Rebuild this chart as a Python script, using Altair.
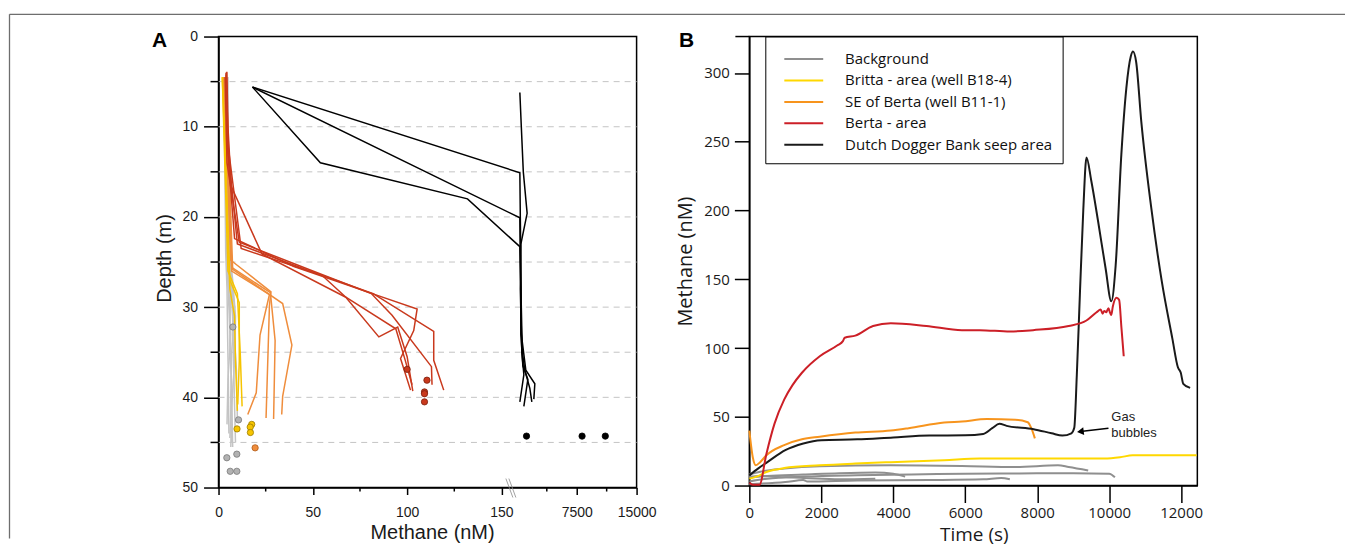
import altair as alt
import pandas as pd

# ======================= Panel A : depth profiles =======================
A_CATS = ["Background", "Britta - area (well B18-4)", "SE of Berta (well B11-1)",
          "Berta - area", "Dutch Dogger Bank seep area"]
A_LINE_COLORS = ["#c4c4c4", "#f6c400", "#ef8d3c", "#c9391d", "#000000"]
A_FILL_COLORS = ["#b2b2b2", "#f6c400", "#ef8d3c", "#c9391d", "#000000"]
A_EDGE_COLORS = ["#7a7a7a", "#9c7c00", "#b05a18", "#7a1f0e", "#000000"]

A_X_TICKS = [0, 50, 100, 150, 7500, 15000]
A_X_MINOR = [25, 75, 125, 3750, 11250]
A_X_BREAKS = [0, 155, 3750, 15000]
A_Y_TICKS = [0, 10, 20, 30, 40, 50]
A_Y_MINOR = [5, 15, 25, 35, 45]
A_GRID = [5, 10, 15, 20, 25, 30, 35, 40, 45]

# Background profiles
BG1_D = [4.5, 10, 15, 20, 25, 30, 35, 40, 45.5]
BG1_V = [3.5, 3.8, 4.0, 4.2, 4.5, 5.5, 6.5, 7.0, 7.5]
BG2_D = [4.5, 10, 16, 22, 26, 31, 36, 41, 45]
BG2_V = [4.0, 4.2, 4.6, 5.0, 6.0, 7.5, 8.0, 8.5, 9.0]
BG3_D = [5, 12, 18, 24, 28, 33, 38, 44]
BG3_V = [3.0, 3.2, 3.5, 3.8, 4.5, 4.8, 5.2, 5.5]
BG4_D = [4.5, 11, 17, 23, 27, 32, 37, 42.5]
BG4_V = [4.5, 5.0, 5.2, 5.5, 7.0, 8.0, 9.5, 10.0]
BG5_D = [5, 12, 20, 25, 29, 34, 39, 44.5]
BG5_V = [3.8, 4.0, 4.5, 5.0, 6.5, 6.0, 7.0, 6.0]
BG6_D = [4.5, 14, 21, 26, 30, 35, 40, 45]
BG6_V = [5.0, 5.2, 5.5, 6.0, 8.5, 7.0, 6.5, 7.0]
BG7_D = [5, 15, 25, 28, 33, 38, 43]
BG7_V = [3.5, 4.0, 4.5, 5.5, 6.5, 5.0, 4.5]
BG8_D = [4.5, 13, 22, 27, 31, 36, 41, 45.5]
BG8_V = [4.2, 4.5, 5.0, 7.5, 9.0, 8.5, 7.0, 6.5]

# Britta profiles
BR1_D = [4.5, 26, 28.5, 35, 41]
BR1_V = [2.0, 5.0, 10.0, 11.5, 12.5]
BR2_D = [4.5, 27, 29.5, 36, 40.8]
BR2_V = [2.5, 6.0, 11.0, 11.0, 10.2]
BR3_D = [4.5, 28, 31, 36, 41.5]
BR3_V = [2.0, 6.0, 8.5, 9.0, 10.0]

# SE of Berta profiles
SE1_D = [4.5, 24.8, 28.3, 29.8, 42.3]
SE1_V = [3.0, 6.5, 27.8, 27.0, 25.2]
SE2_D = [4.5, 25.6, 28.4, 33.7, 42.4]
SE2_V = [3.5, 7.0, 27.5, 30.0, 29.2]
SE3_D = [4.5, 25.8, 29.6, 34.2, 39.9, 41.9]
SE3_V = [4.0, 7.5, 34.0, 38.9, 34.0, 33.5]
SE4_D = [4.5, 26, 28.6, 33.1, 39.5, 41.9]
SE4_V = [3.0, 7.0, 27.0, 22.0, 20.0, 15.5]

# Berta profiles
BE1_D = [3.9, 10, 16.6, 24.1, 28.9, 32.4, 35.9, 38.6]
BE1_V = [4.4, 5.0, 6.7, 23, 67.5, 94, 99, 102.6]
BE2_D = [4.2, 12, 22.4, 25.5, 28.5, 30.2, 32.6, 35.7, 39.2]
BE2_V = [4.0, 4.6, 8.5, 40, 81.5, 105.3, 103.5, 96.5, 101.8]
BE3_D = [4.5, 14, 22.8, 26, 28.5, 30.9, 36.6, 38.6]
BE3_V = [3.5, 4.5, 11, 50, 81, 92, 112.9, 113.2]
BE4_D = [4.0, 12, 23, 26.5, 28.9, 33.3, 32.2, 35.5, 39.3]
BE4_V = [4.0, 4.8, 10, 55, 67.5, 85, 95, 100, 103]
BE5_D = [4.0, 12, 23.5, 26.7, 28.5, 32.7, 35.9, 39.2]
BE5_V = [4.2, 5.0, 12, 58, 82, 114.1, 114.1, 119.4]

# Dutch Dogger Bank profiles
DD1_D = [5.6, 15.1, 20, 25, 30, 35, 37.5, 40.5]
DD1_V = [18, 1054, 1100, 1154, 1154, 1254, 1454, 1054]
DD2_D = [5.6, 20.1, 25, 30, 35, 37, 39, 40.5]
DD2_V = [18, 1054, 1100, 1200, 1300, 1554, 2053, 2253]
DD3_D = [5.6, 14, 18, 23.3, 28, 33, 36.5, 38, 41]
DD3_V = [18, 54, 132, 1054, 1154, 1154, 1354, 1854, 1454]
DD4_D = [6.2, 10, 15, 19.6, 23, 28, 33, 37, 38.5, 40.2]
DD4_V = [1054, 1200, 1400, 1783, 1154, 1100, 1200, 1654, 2553, 2453]

# discrete samples (dots)
PT_BG_D = [32.2, 42.5, 46.7, 46.3, 48.2, 48.2]
PT_BG_V = [7.6, 10.6, 4.4, 9.7, 6.2, 9.7]
PT_BR_D = [43.0, 43.3, 43.9, 43.5]
PT_BR_V = [17.6, 16.8, 16.9, 9.8]
PT_SE_D = [45.6]
PT_SE_V = [19.4]
PT_BE_D = [36.9, 38.1, 39.4, 39.6, 40.5]
PT_BE_V = [100, 110.5, 109.2, 109.2, 109.2]
PT_DD_D = [44.3, 44.3, 44.3]
PT_DD_V = [1720, 8170, 11080]

A_PROFILES = [
    ("Background", [(BG1_D, BG1_V), (BG2_D, BG2_V), (BG3_D, BG3_V), (BG4_D, BG4_V),
                    (BG5_D, BG5_V), (BG6_D, BG6_V), (BG7_D, BG7_V), (BG8_D, BG8_V)]),
    ("Britta - area (well B18-4)", [(BR1_D, BR1_V), (BR2_D, BR2_V), (BR3_D, BR3_V)]),
    ("SE of Berta (well B11-1)", [(SE1_D, SE1_V), (SE2_D, SE2_V), (SE3_D, SE3_V), (SE4_D, SE4_V)]),
    ("Berta - area", [(BE1_D, BE1_V), (BE2_D, BE2_V), (BE3_D, BE3_V), (BE4_D, BE4_V), (BE5_D, BE5_V)]),
    ("Dutch Dogger Bank seep area", [(DD1_D, DD1_V), (DD2_D, DD2_V), (DD3_D, DD3_V), (DD4_D, DD4_V)]),
]
A_POINTS = [
    ("Background", PT_BG_D, PT_BG_V),
    ("Britta - area (well B18-4)", PT_BR_D, PT_BR_V),
    ("SE of Berta (well B11-1)", PT_SE_D, PT_SE_V),
    ("Berta - area", PT_BE_D, PT_BE_V),
    ("Dutch Dogger Bank seep area", PT_DD_D, PT_DD_V),
]

# ======================= Panel B : time series =======================
B_CATS = A_CATS
B_COLORS = ["#8f8f8f", "#ffd800", "#f7941d", "#cc1f27", "#1a1a1a"]

B_X_TICKS = list(range(0, 12001, 1000))
B_Y_TICKS = list(range(0, 326, 25))

BG_T1 = [0, 300, 968, 1957, 3933, 5909, 7391, 8577, 8874, 9417]
BG_V1 = [8, 10, 12.3, 14, 14.7, 14.2, 13.5, 14.7, 13.5, 11]
BG_T2 = [0, 500, 1500, 3000, 4500, 6000, 7500, 9000, 10000, 10160]
BG_V2 = [3, 5, 6.5, 7.5, 8.0, 8.6, 8.8, 9.0, 8.6, 6]
BG_T3 = [0, 500, 1500, 2500, 3500, 4000, 4330]
BG_V3 = [6, 7, 8, 9, 9.5, 8.5, 6.5]
BG_T4 = [0, 1000, 1500, 1600, 3000, 5000, 6500, 7000, 7240]
BG_V4 = [1, 2.5, 4, 3, 3.7, 4.0, 4.5, 5.5, 4.5]
BG_T5 = [0, 300, 1000, 1500, 2500, 3500]
BG_V5 = [6.5, 7, 6, 5.5, 4.5, 5]

BRITTA_T = [0, 200, 474, 968, 1957, 2945, 3933, 5415, 6403, 7391, 9862, 10300, 10652, 12431]
BRITTA_V = [4.9, 6.5, 9.8, 12.7, 14.7, 16, 17, 18.4, 19.6, 19.6, 19.6, 20.5, 22, 22]

SEB_T = [0, 100, 178, 300, 474, 968, 1462, 1957, 2945, 3933, 4427, 5415, 5909, 6601, 7391, 7737, 7836, 7935]
SEB_V = [40, 20, 14.7, 17, 22, 29.4, 33.6, 35.5, 38.5, 40, 41.7, 45.8, 46.6, 48.3, 47.8, 46, 41.7, 34.3]

BERTA_T = [0, 100, 280, 474, 700, 968, 1200, 1462, 1957, 2450, 2600, 2650, 2945, 3439, 3933, 4921,
           5909, 6403, 7243, 7885, 8874, 9368, 9650, 9763, 9820, 9862, 9920, 9980, 10020, 10059,
           10100, 10207, 10277, 10340, 10405]
BERTA_V = [2, 0.5, 0.5, 23, 45, 62.5, 73, 82, 94, 102, 105, 107.5, 109, 116, 118, 116,
           113, 113, 112, 113, 116, 120, 126, 128, 125, 127, 126, 129, 126, 124,
           130, 136.5, 135, 115, 94]

DDB_T = [0, 250, 500, 1000, 1500, 2000, 3000, 4000, 5000, 6000, 6500, 6750, 6950, 7150, 7900,
         8400, 8700, 8950, 9030, 9100, 9186, 9280, 9370, 9500, 9693, 9900, 10060, 10180, 10338,
         10477, 10600, 10662, 10750, 10892, 11169, 11460, 11755, 11910, 11990, 12060, 12250]
DDB_V = [7.4, 12.5, 17, 25.7, 30.6, 33, 33.6, 35, 36.3, 36.5, 37.5, 41.7, 44.9, 43.4, 41,
         38, 36.3, 38, 42, 80, 139, 200, 238.5, 222, 192, 158, 134, 160, 240.6,
         289, 312, 315.6, 308, 264.8, 202, 148.8, 107, 86, 82, 74, 71]

B_SERIES = [
    ("Background", "bg1", BG_T1, BG_V1), ("Background", "bg2", BG_T2, BG_V2),
    ("Background", "bg3", BG_T3, BG_V3), ("Background", "bg4", BG_T4, BG_V4),
    ("Background", "bg5", BG_T5, BG_V5),
    ("Britta - area (well B18-4)", "br", BRITTA_T, BRITTA_V),
    ("SE of Berta (well B11-1)", "se", SEB_T, SEB_V),
    ("Dutch Dogger Bank seep area", "dd", DDB_T, DDB_V),
    ("Berta - area", "be", BERTA_T, BERTA_V),
]

GAS_T = [10060, 10060]
GAS_V = [49.5, 38.0]
GAS_TEXT = ["Gas", "bubbles"]
ARROW_T = [9980, 9200]
ARROW_V = [41.7, 39.3]

# ----------------------------- build tables -----------------------------
rows = []
for cat, profs in A_PROFILES:
    for k, (ds, vs) in enumerate(profs):
        for i, (d, v) in enumerate(zip(ds, vs)):
            rows.append({"cat": cat, "pid": f"{cat}-{k}", "seq": i, "depth": d, "ch4": v})
dfA = pd.DataFrame(rows)

prow = []
for cat, ds, vs in A_POINTS:
    for d, v in zip(ds, vs):
        prow.append({"cat": cat, "depth": d, "ch4": v})
dfAp = pd.DataFrame(prow)

brow = []
for cat, sid, ts, vs in B_SERIES:
    for t, v in zip(ts, vs):
        brow.append({"cat": cat, "sid": sid, "t": t, "v": v})
dfB = pd.DataFrame(brow)

WA, HA = 419, 452
WB, HB = 449, 450

xA = alt.Scale(domain=A_X_BREAKS, range=[0, 293, 329, WA], zero=False, nice=False)
yA = alt.Scale(domain=[0, 50], reverse=True, nice=False, zero=False)

one = pd.DataFrame({"k": [0]})

gridA = alt.Chart(pd.DataFrame({"depth": A_GRID})).mark_rule(
    color="#c4c4c4", strokeWidth=1, strokeDash=[6, 5]
).encode(y=alt.Y("depth:Q", scale=yA), x=alt.value(0), x2=alt.value(WA))

linesA = alt.Chart(dfA).mark_line(strokeWidth=1.5, interpolate="linear").encode(
    x=alt.X("ch4:Q", scale=xA, title="Methane (nM)",
            axis=alt.Axis(values=A_X_TICKS, format="d", tickSize=7, labelPadding=11,
                          labelFont="Liberation Sans", labelFontSize=14, labelFlush=False,
                          labelOverlap=False, grid=False, titleFont="Liberation Sans",
                          titleFontSize=20, titleFontWeight="normal", titleX=214, titleY=45,
                          titleBaseline="middle", titleAlign="center")),
    y=alt.Y("depth:Q", scale=yA, title="Depth (m)",
            axis=alt.Axis(values=A_Y_TICKS, format="d", tickSize=15, labelPadding=6,
                          labelFont="Liberation Sans", labelFontSize=14, labelFlush=False,
                          labelOverlap=False, grid=False, titleFont="Liberation Sans",
                          titleFontSize=20, titleFontWeight="normal", titleX=-54, titleY=222,
                          titleBaseline="middle", titleAlign="center")),
    color=alt.Color("cat:N", scale=alt.Scale(domain=A_CATS, range=A_LINE_COLORS), legend=None),
    detail="pid:N",
    order="seq:Q",
)

ptsA = alt.Chart(dfAp).mark_point(filled=True, size=40, strokeWidth=0.8, opacity=1).encode(
    x=alt.X("ch4:Q", scale=xA),
    y=alt.Y("depth:Q", scale=yA),
    fill=alt.Fill("cat:N", scale=alt.Scale(domain=A_CATS, range=A_FILL_COLORS), legend=None),
    stroke=alt.Stroke("cat:N", scale=alt.Scale(domain=A_CATS, range=A_EDGE_COLORS), legend=None),
)

minorYA = alt.Chart(pd.DataFrame({"depth": A_Y_MINOR})).mark_rule(color="black", strokeWidth=1.5).encode(
    y=alt.Y("depth:Q", scale=yA), x=alt.value(-8), x2=alt.value(0))
minorXA = alt.Chart(pd.DataFrame({"ch4": A_X_MINOR})).mark_rule(color="black", strokeWidth=1.5).encode(
    x=alt.X("ch4:Q", scale=xA), y=alt.value(HA), y2=alt.value(HA + 4))

brk1 = alt.Chart(one).mark_rule(color="#8a8a8a", strokeWidth=0.8).encode(
    x=alt.value(288), x2=alt.value(295), y=alt.value(443), y2=alt.value(462))
brk2 = alt.Chart(one).mark_rule(color="#8a8a8a", strokeWidth=0.8).encode(
    x=alt.value(291), x2=alt.value(298), y=alt.value(443), y2=alt.value(462))

frameTop = alt.Chart(one).mark_rule(color="#6e6e6e", strokeWidth=1.3).encode(
    x=alt.value(-209.5), x2=alt.value(1129), y=alt.value(-22.3))
frameLeft = alt.Chart(one).mark_rule(color="#6e6e6e", strokeWidth=1.3).encode(
    x=alt.value(-209.5), y=alt.value(-22.3), y2=alt.value(503))

labA = alt.Chart(pd.DataFrame({"lab": ["A"]})).mark_text(
    font="Liberation Sans", fontSize=21, fontWeight="bold", color="black", baseline="middle", align="center"
).encode(text="lab:N", x=alt.value(-59), y=alt.value(4))

chartA = alt.layer(gridA, linesA, ptsA, minorYA, minorXA, brk1, brk2, frameTop, frameLeft, labA).properties(
    width=WA, height=HA)

# ------------------------------- panel B -------------------------------
xB = alt.Scale(domain=[0, 12450], nice=False, zero=False)
yB = alt.Scale(domain=[0, 326.5], nice=False, zero=False)

linesB = alt.Chart(dfB).mark_line(strokeWidth=2, interpolate="monotone").encode(
    x=alt.X("t:Q", scale=xB, title="Time (s)",
            axis=alt.Axis(values=B_X_TICKS, format="d", tickSize=17, labelPadding=3,
                          labelExpr="datum.value % 2000 == 0 ? datum.label : ''",
                          labelFont="Open Sans", labelFontSize=15, labelFlush=False,
                          labelOverlap=False, grid=False, titleFont="Open Sans",
                          titleFontSize=19, titleFontWeight="normal", titleX=225, titleY=49,
                          titleBaseline="middle", titleAlign="center")),
    y=alt.Y("v:Q", scale=yB, title="Methane (nM)",
            axis=alt.Axis(values=B_Y_TICKS, format="d", tickSize=15, labelPadding=5,
                          labelExpr="datum.value % 50 == 0 ? datum.label : ''",
                          labelFont="Open Sans", labelFontSize=15, labelFlush=False,
                          labelOverlap=False, grid=False, titleFont="Open Sans",
                          titleFontSize=20, titleFontWeight="normal", titleX=-64, titleY=225,
                          titleBaseline="middle", titleAlign="center")),
    color=alt.Color("cat:N", scale=alt.Scale(domain=B_CATS, range=B_COLORS),
                    legend=alt.Legend(title=None, orient="none", legendX=16, legendY=0,
                                      strokeColor="black", fillColor="white", padding=10,
                                      symbolType="M-0.3,0L3.09,0", symbolSize=529,
                                      symbolStrokeWidth=2, symbolOffset=0, labelOffset=45,
                                      rowPadding=0.5, labelFont="Open Sans", labelFontSize=15,
                                      labelColor="#111", labelLimit=400)),
    detail="sid:N",
    order=alt.Order("t:Q"),
)

gasText = alt.Chart(pd.DataFrame({"t": GAS_T, "v": GAS_V, "txt": GAS_TEXT})).mark_text(
    font="Liberation Sans", fontSize=13, align="left", baseline="middle", color="#222"
).encode(x=alt.X("t:Q", scale=xB), y=alt.Y("v:Q", scale=yB), text="txt:N")

arrowLine = alt.Chart(pd.DataFrame({"t": [ARROW_T[0]], "v": [ARROW_V[0]],
                                    "t2": [ARROW_T[1]], "v2": [ARROW_V[1]]})).mark_rule(
    color="black", strokeWidth=1.5).encode(
    x=alt.X("t:Q", scale=xB), y=alt.Y("v:Q", scale=yB), x2="t2:Q", y2="v2:Q")
arrowHead = alt.Chart(pd.DataFrame({"t": [ARROW_T[1]], "v": [ARROW_V[1]]})).mark_point(
    shape="triangle-left", filled=True, size=60, color="black", opacity=1, angle=353).encode(
    x=alt.X("t:Q", scale=xB), y=alt.Y("v:Q", scale=yB))

topExt = alt.Chart(one).mark_rule(color="black", strokeWidth=1.5).encode(
    x=alt.value(-14), x2=alt.value(0), y=alt.value(0))

labB = alt.Chart(pd.DataFrame({"lab": ["B"]})).mark_text(
    font="Liberation Sans", fontSize=21, fontWeight="bold", color="black", baseline="middle", align="center"
).encode(text="lab:N", x=alt.value(-63), y=alt.value(4))

chartB = alt.layer(linesB, gasText, arrowLine, arrowHead, topExt, labB).properties(width=WB, height=HB)

chart = alt.hconcat(chartA, chartB, spacing=113, bounds="flush").resolve_scale(
    x="independent", y="independent", color="independent", fill="independent", stroke="independent"
).properties(
    padding={"left": 0, "top": 4, "right": 0, "bottom": 0},
    background="white",
).configure_view(
    stroke="black", strokeWidth=1.5
).configure_axis(
    domainColor="black", domainWidth=1.5, tickColor="black", tickWidth=1.5,
    labelColor="#1a1a1a", titleColor="#1a1a1a"
)

chart.save("out.html", embed_options={"renderer": "svg", "actions": False})
